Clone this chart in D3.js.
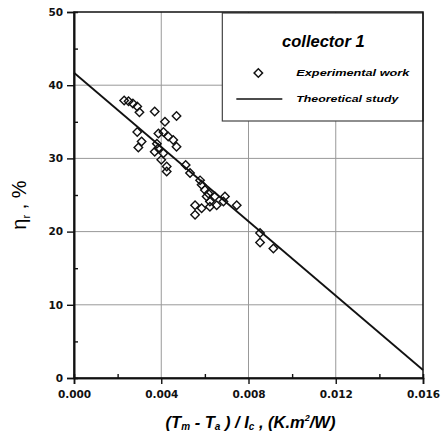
<!DOCTYPE html>
<html>
<head>
<meta charset="utf-8">
<script src="https://cdn.jsdelivr.net/npm/d3@7"></script>
<style>
  body { margin: 0; background: #fff; }
</style>
</head>
<body>
<div id="chart"></div>
<script>
// experimental points
const expX = [0.0023, 0.0025, 0.0027, 0.0029, 0.0030, 0.0037, 0.00417, 0.0047, 0.0029, 0.0031,
  0.00295, 0.00387, 0.0041, 0.00432, 0.00455, 0.0047, 0.0038, 0.00387, 0.0037, 0.0041,
  0.0040, 0.00425, 0.00425, 0.00512, 0.00532, 0.00578, 0.00585, 0.0060, 0.00616, 0.00608,
  0.00646, 0.00692, 0.00746, 0.00555, 0.00555, 0.00585, 0.00623, 0.00654, 0.00685, 0.00623,
  0.00853, 0.00853, 0.00914]
const expY = [37.9, 37.8, 37.5, 37.1, 36.3, 36.4, 35.0, 35.8, 33.6, 32.3,
  31.5, 33.4, 33.6, 33.0, 32.5, 31.6, 32.0, 31.4, 30.9, 30.7,
  29.8, 28.9, 28.2, 29.1, 28.0, 27.0, 26.4, 25.7, 25.2, 24.8,
  24.8, 24.8, 23.6, 23.6, 22.3, 23.2, 23.4, 23.6, 24.1, 24.1,
  19.8, 18.5, 17.7]
// theoretical line end points
const theoX = [0.0, 0.016]
const theoY = [41.7, 1.1]

const xTicks = [0, 0.004, 0.008, 0.012, 0.016]
const xMinor = [0.002, 0.006, 0.010, 0.014]
const yTicks = [0, 10, 20, 30, 40, 50]
const yMinor = [5, 15, 25, 35, 45]

const LIB = "Liberation Sans, Arial, sans-serif"
const DJV = "DejaVu Sans, sans-serif"

const margin = { top: 12, right: 20, bottom: 56, left: 74 }
const width = 443 - margin.left - margin.right
const height = 434 - margin.top - margin.bottom

const svg = d3.select("#chart")
    .append("svg")
    .attr("width", 443)
    .attr("height", 434)
    .append("g")
    .attr("transform", "translate(" + margin.left + "," + margin.top + ")")

let x = d3.scaleLinear().domain([0, 0.016]).range([0, width])
let y = d3.scaleLinear().domain([0, 50]).range([height, 0])

// grid
svg.append("g")
    .selectAll("line")
    .data(xTicks.slice(1, -1))
    .enter()
    .append("line")
    .attr("x1", d => x(d)).attr("x2", d => x(d))
    .attr("y1", 0).attr("y2", height)
    .attr("stroke", "#999").attr("stroke-width", 1)

svg.append("g")
    .selectAll("line")
    .data(yTicks.slice(1, -1))
    .enter()
    .append("line")
    .attr("y1", d => y(d)).attr("y2", d => y(d))
    .attr("x1", 0).attr("x2", width)
    .attr("stroke", "#999").attr("stroke-width", 1)

// legend box (covers grid)
const lg = svg.append("g").attr("transform", "translate(" + (x(0.0068)) + ",1)")
lg.append("rect")
    .attr("width", width - x(0.0068))
    .attr("height", 108)
    .attr("fill", "#fff")
    .attr("stroke", "#444")
    .attr("stroke-width", 1.2)

// frame
svg.append("rect")
    .attr("width", width).attr("height", height)
    .attr("fill", "none").attr("stroke", "#111").attr("stroke-width", 1.5)

// axes
let xAxis = d3.axisBottom(x).tickValues(xTicks).tickSize(6).tickPadding(7)
    .tickFormat(d3.format(".3f"))
svg.append("g")
    .attr("transform", "translate(0," + height + ")")
    .call(xAxis)

let yAxis = d3.axisLeft(y).tickValues(yTicks).tickSize(7).tickPadding(4)
svg.append("g").call(yAxis)

svg.append("g")
    .attr("transform", "translate(0," + height + ")")
    .call(d3.axisBottom(x).tickValues(xMinor).tickSize(-4).tickFormat(""))
svg.append("g")
    .call(d3.axisLeft(y).tickValues(yMinor).tickSize(-4).tickFormat(""))

svg.selectAll(".domain")
    .attr("stroke", "#111")
    .attr("stroke-width", 1.6)
svg.selectAll(".tick line")
    .attr("stroke", "#111")
    .attr("stroke-width", 1.4)
svg.selectAll(".tick text")
    .style("font-family", DJV)
    .style("font-size", "10.5px")
    .style("font-weight", "700")
    .style("fill", "#111")

// theoretical line
svg.append("line")
    .attr("x1", x(theoX[0])).attr("y1", y(theoY[0]))
    .attr("x2", x(theoX[1])).attr("y2", y(theoY[1]))
    .attr("stroke", "#111").attr("stroke-width", 1.8)

// diamonds
const diamond = d3.symbol().type(d3.symbolSquare).size(36)
svg.append("g")
    .selectAll("path")
    .data(expX.map((d, i) => [d, expY[i]]))
    .enter()
    .append("path")
    .attr("d", diamond)
    .attr("transform", d => "translate(" + x(d[0]) + "," + y(d[1]) + ") rotate(45)")
    .attr("fill", "none")
    .attr("stroke", "#111")
    .attr("stroke-width", 1.4)

// legend content
lg.append("text")
    .attr("x", 101).attr("y", 34)
    .attr("text-anchor", "middle")
    .style("font-family", LIB)
    .style("font-size", "16.5px")
    .style("font-weight", "700")
    .style("font-style", "italic")
    .text("collector 1")
lg.append("path")
    .attr("d", diamond)
    .attr("transform", "translate(36,60) rotate(45)")
    .attr("fill", "none").attr("stroke", "#111").attr("stroke-width", 1.5)
lg.append("text")
    .attr("x", 74).attr("y", 63)
    .style("font-family", LIB)
    .style("font-size", "9px")
    .style("font-weight", "700")
    .style("font-style", "italic")
    .attr("textLength", 113)
    .attr("lengthAdjust", "spacingAndGlyphs")
    .text("Experimental work")
lg.append("line")
    .attr("x1", 14).attr("x2", 60).attr("y1", 86).attr("y2", 86)
    .attr("stroke", "#111").attr("stroke-width", 1.5)
lg.append("text")
    .attr("x", 74).attr("y", 89)
    .style("font-family", LIB)
    .style("font-size", "9px")
    .style("font-weight", "700")
    .style("font-style", "italic")
    .attr("textLength", 102)
    .attr("lengthAdjust", "spacingAndGlyphs")
    .text("Theoretical study")

// axis titles
const xt = svg.append("text")
    .attr("x", width / 2 + 2)
    .attr("y", height + 50)
    .attr("text-anchor", "middle")
    .style("font-family", LIB)
    .style("font-size", "16.5px")
    .style("font-weight", "700")
    .style("font-style", "italic")
xt.append("tspan").text("(T")
xt.append("tspan").style("font-size", "10px").attr("dy", 2).text("m")
xt.append("tspan").attr("dy", -2).text(" - T")
xt.append("tspan").style("font-size", "10px").attr("dy", 2).text("a")
xt.append("tspan").attr("dy", -2).text(" ) / I")
xt.append("tspan").style("font-size", "10px").attr("dy", 2).text("c")
xt.append("tspan").attr("dy", -2).text(" , (K.m")
xt.append("tspan").style("font-size", "9px").attr("dy", -7).text("2")
xt.append("tspan").attr("dy", 7).text("/W)")

const yt = svg.append("text")
    .attr("transform", "translate(" + (-48) + "," + (y(25) + 10) + ") rotate(-90)")
    .attr("text-anchor", "middle")
    .style("font-family", LIB)
    .style("font-size", "20px")
yt.append("tspan").text("η")
yt.append("tspan").style("font-size", "11px").attr("dy", 4).text("r")
yt.append("tspan").attr("dy", -4).text("  ,  %")
</script>
</body>
</html>
